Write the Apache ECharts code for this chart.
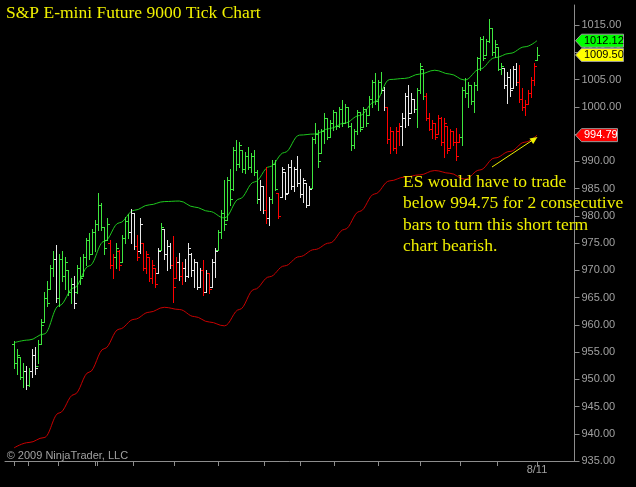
<!DOCTYPE html>
<html><head><meta charset="utf-8">
<script src="https://cdn.jsdelivr.net/npm/echarts@6/dist/echarts.min.js"></script>
<style>html,body{margin:0;padding:0;background:#000;}#c{width:636px;height:487px;}</style>
</head><body><div id="c"></div>
<script>
// ---- data ----
const highs = [957.0,955.5,954.0,953.0,952.5,952.0,955.5,956.0,957.2,961.0,
966.0,968.0,971.0,973.5,974.6,973.0,973.5,972.5,970.0,968.5,
969.0,971.0,972.5,973.0,976.0,976.8,977.5,979.2,984.1,982.3,
978.0,979.5,975.5,973.0,975.0,973.7,976.5,979.8,980.4,981.3,
980.5,976.5,979.6,975.0,973.5,972.5,971.9,970.5,974.0,978.6,
977.5,975.5,975.0,976.2,972.5,973.1,971.5,972.0,975.0,973.1,
972.0,971.5,970.5,971.9,970.0,969.5,972.0,974.0,977.4,981.1,
986.6,987.2,988.5,992.6,993.9,993.5,992.0,991.7,992.6,991.5,
992.0,988.4,986.6,985.5,989.0,983.4,990.2,990.2,984.1,989.0,
988.0,989.5,990.2,989.0,991.0,988.5,987.0,986.0,985.5,994.4,
997.0,995.7,996.0,998.8,998.0,997.5,999.4,999.0,1000.0,1001.2,
1000.5,1000.0,997.0,996.0,999.4,999.0,1000.0,999.5,1002.0,1004.9,
1006.2,1005.0,1006.4,1003.6,1000.0,996.3,995.5,996.3,997.0,998.8,
1002.5,1004.0,1002.5,1001.5,1003.4,1008.0,1007.0,1002.5,998.8,997.6,
997.0,998.5,998.1,997.9,996.5,996.0,995.5,996.1,995.0,1003.6,
1005.3,1004.5,1004.0,1004.5,1009.2,1012.8,1013.0,1012.5,1016.1,1014.5,
1012.2,1011.0,1008.0,1007.1,1006.4,1007.0,1007.5,1008.0,1007.7,1003.4,
1001.2,1003.0,1005.5,1008.0,1011.0];
const lows = [952.0,951.0,950.0,948.5,948.3,948.8,950.5,951.0,953.0,956.5,
960.5,963.5,966.5,969.0,964.2,963.5,968.0,966.5,965.5,964.0,
963.0,965.8,967.5,969.0,971.0,972.0,973.0,973.5,977.4,977.4,
972.9,975.5,970.5,968.5,970.5,970.1,971.5,975.0,976.0,975.0,
973.9,971.9,973.1,970.0,969.5,968.0,967.6,967.0,969.5,973.7,
972.0,970.0,970.5,964.2,968.5,968.2,967.5,968.0,968.8,969.0,
967.0,966.5,967.0,965.5,966.0,965.8,967.0,968.8,973.7,975.9,
977.4,979.2,982.0,984.7,988.4,989.0,988.0,987.8,988.5,988.0,
987.5,982.3,981.1,980.5,978.7,978.3,982.3,984.7,979.6,983.4,
983.0,984.1,985.0,984.5,985.5,983.5,982.5,981.6,982.0,985.1,
993.3,989.0,991.5,993.3,994.0,994.5,995.7,996.0,996.3,996.5,
997.0,996.3,992.1,992.5,995.0,995.5,996.3,996.5,998.5,1000.0,
1000.5,999.4,1002.5,999.4,993.3,991.5,992.0,991.5,993.0,993.0,
996.3,996.7,998.8,999.0,996.3,1002.5,1001.5,997.6,995.7,994.3,
994.0,995.0,993.0,990.8,991.5,992.5,993.0,990.2,993.5,993.0,
1001.8,1000.0,1000.5,999.0,1003.1,1006.7,1008.5,1009.5,1011.9,1009.5,
1009.1,1006.7,1006.0,1003.4,1000.7,1002.0,1003.5,1004.0,1000.9,999.4,
998.5,1000.5,1001.8,1004.0,1008.6];
const opens = [956.5,953.0,954.0,950.5,951.5,949.0,951.5,954.5,952.5,956.5,
960.5,965.0,966.5,970.5,972.0,965.0,972.0,969.0,970.0,966.0,
967.5,966.0,970.5,969.0,972.5,975.5,973.0,977.0,978.5,982.0,
978.0,975.5,975.0,971.0,972.5,973.5,971.5,976.0,979.0,977.0,
980.5,974.5,973.5,975.0,970.5,972.5,968.5,970.5,969.5,973.7,
977.5,973.0,974.5,971.0,968.5,971.5,969.0,970.5,969.0,973.0,
970.0,971.5,967.0,970.0,966.0,969.5,967.0,971.5,973.7,977.0,
980.5,979.2,986.5,985.0,992.0,989.5,992.0,988.5,991.0,989.0,
991.0,988.0,983.0,985.5,981.0,979.5,983.0,989.5,984.1,983.4,
988.0,984.1,989.0,985.5,988.5,986.0,984.0,986.0,982.0,985.1,
994.0,995.0,991.5,995.5,998.0,994.5,997.0,999.0,996.5,999.5,
997.0,1000.0,996.5,993.0,995.5,999.0,996.3,999.5,998.5,1001.5,
1004.5,1001.0,1004.5,1003.0,1000.0,994.0,995.5,992.5,995.5,996.5,
998.0,1002.0,998.8,1001.5,999.5,1003.0,1007.0,1002.0,998.0,996.0,
997.0,995.0,998.0,993.5,996.5,992.5,995.5,993.5,993.5,994.5,
1003.0,1002.5,1004.0,1001.0,1004.0,1009.0,1012.5,1009.5,1012.0,1014.5,
1010.0,1011.0,1007.0,1007.1,1004.0,1005.5,1003.5,1007.0,1004.5,1001.5,
1000.0,1000.5,1002.5,1005.0,1008.6];
const closes = [953.0,954.5,950.5,951.5,949.0,951.5,954.5,952.0,956.5,960.0,
965.0,964.0,970.5,972.0,965.0,972.0,969.0,971.5,966.0,967.5,
964.0,970.5,968.5,972.5,975.5,973.0,977.0,978.5,982.0,978.0,
974.0,978.5,971.0,972.5,974.0,971.0,976.0,979.0,977.0,980.5,
974.5,972.5,978.5,970.5,973.0,968.5,971.0,967.5,973.5,978.0,
973.0,974.5,971.0,967.0,971.5,969.0,970.5,969.0,974.0,970.0,
971.5,967.0,970.0,966.0,969.5,966.5,971.5,973.5,977.0,980.5,
978.5,986.5,983.0,992.0,989.5,993.0,988.5,991.0,989.0,991.0,
988.0,983.0,985.5,981.0,979.5,983.0,989.5,985.0,980.0,988.5,
984.0,989.0,985.5,988.5,986.0,984.0,986.5,982.0,985.0,994.0,
995.0,990.0,995.5,998.0,994.5,997.0,999.0,996.5,999.5,997.0,
1000.0,996.5,993.0,995.5,999.0,996.0,999.5,997.0,1001.5,1004.5,
1001.0,1004.5,1003.0,1000.0,994.0,995.5,992.5,995.5,996.5,998.0,
1002.0,998.0,1001.5,999.5,1003.0,1007.5,1002.0,998.0,996.0,997.0,
994.5,998.0,993.5,997.0,992.0,995.5,993.5,991.0,994.5,1003.0,
1002.5,1004.0,1001.0,1004.0,1009.0,1012.5,1009.0,1012.0,1014.5,1010.0,
1011.5,1007.0,1007.5,1004.0,1005.5,1003.0,1007.0,1004.5,1001.5,1000.0,
1000.5,1002.5,1005.0,1007.5,1009.5];
// bar state: g = green, w = white, r = red
const barStates = "gggg"+"w"+"g"+"ww"+"gggggg"+"w"+"ggggg"+"w"+"ggggggggggg"+"rr"+"g"+"r"+"ggg"+"ww"+"r"+"w"+"rrrrr"+"w"+"g"+"www"+"rr"+"w"+"r"+"wwwwww"+"r"+"w"+"r"+"ww"+"gggggggggggggg"+"ww"+"r"+"w"+"gg"+"r"+"wwwwwwwwww"+"gggggggggggggggggggggggg"+"w"+"rrrrr"+"wwwww"+"ggg"+"rrrrrrrrrrrr"+"gggggggggggggg"+"wwwww"+"rrrrrr"+"g";

const maIdx   = [0,5,10,15,20,25,30,35,40,45,50,55,60,65,70,75,80,85,90,95,100,105,110,115,120,125,130,135,140,145,150,155,160,165,170,174];
const greenMA = [956.7,957.2,958.3,963.5,966.8,970.8,975.3,978.7,981.0,982.0,982.6,982.7,981.6,980.8,979.6,983.1,986.2,989.0,991.6,994.8,995.0,996.0,997.0,998.4,1000.9,1005.0,1005.2,1006.0,1006.7,1006.0,1004.9,1006.9,1009.0,1009.8,1011.0,1012.12];
const redMA   = [937.4,938.4,939.3,943.8,947.2,951.3,955.6,959.2,961.0,962.3,963.2,962.8,961.5,960.5,959.8,962.8,966.5,968.8,970.8,972.5,973.8,975.0,977.5,980.8,984.0,986.4,987.1,987.5,988.3,987.8,986.7,988.4,990.6,991.8,993.5,994.79];

const yTicks = [935,940,945,950,955,960,965,970,975,980,985,990,995,1000,1005,1010,1015];
const xTickIdx = [0,4.66,14.64,26.95,27.61,39.59,53.23,67.87,83.18,95.2,106.5,121.1,135.1,148.4,160.7,174];
const dateLabelIdx = [174];
const dateLabelText = '8/11';
const lastClose = 1009.50, greenLast = 1012.12, redLast = 994.79;

const stateColor = {g:'#3ee63e', w:'#e8e8e8', r:'#ff0000'};
const stateCode = {g:0, w:1, r:2};
const codeColor = [stateColor.g, stateColor.w, stateColor.r];

const bars = highs.map((h,i)=>[i, opens[i], h, lows[i], closes[i], stateCode[barStates[i]] ?? 0]);

const chart = echarts.init(document.getElementById('c'), null, {renderer:'canvas'});
const GL = 5, GT = 5, GW = 569.5, GH = 456;
const option = {
  backgroundColor:'#000',
  animation:false,
  grid:{left:GL, top:GT, width:GW, height:GH},
  xAxis:{type:'value', min:-2.994, max:186.48,
    axisLine:{show:true, onZero:false, lineStyle:{color:'#8c8c8c', width:1}},
    axisTick:{show:true, customValues:xTickIdx, length:5, lineStyle:{color:'#8c8c8c'}},
    axisLabel:{show:true, customValues:dateLabelIdx, formatter:()=>dateLabelText, color:'#a0a0a0', fontSize:11, fontFamily:'Liberation Sans', margin:3},
    splitLine:{show:false}},
  yAxis:{type:'value', position:'right', min:935, max:1018.67,
    axisLine:{show:true, onZero:false, lineStyle:{color:'#8c8c8c', width:1}},
    axisTick:{show:true, customValues:yTicks, length:5, lineStyle:{color:'#8c8c8c'}},
    axisLabel:{show:true, customValues:yTicks, formatter:v=>Number(v).toFixed(2), color:'#a0a0a0', fontSize:11, fontFamily:'Liberation Sans', margin:7},
    splitLine:{show:false}},
  series:[
    {type:'line', data:maIdx.map((x,k)=>[x, redMA[k]]), smooth:0.4, smoothMonotone:'x', showSymbol:false,
      lineStyle:{color:'#c80000', width:1}, z:2},
    {type:'line', data:maIdx.map((x,k)=>[x, greenMA[k]]), smooth:0.4, smoothMonotone:'x', showSymbol:false,
      lineStyle:{color:'#1ec81e', width:1}, z:2},
    {type:'custom', data:bars, encode:{x:0, y:[1,2,3,4]}, z:3,
      renderItem:function(params, api){
        const i = api.value(0);
        const ph = api.coord([i, api.value(2)]);
        const pl = api.coord([i, api.value(3)]);
        const po = api.coord([i, api.value(1)]);
        const pc = api.coord([i, api.value(4)]);
        const col = codeColor[api.value(5)];
        const x = Math.round(ph[0]) + 0.5;
        const yo = Math.round(po[1]) + 0.5, yc = Math.round(pc[1]) + 0.5;
        const st = {stroke:col, lineWidth:1};
        return {type:'group', children:[
          {type:'line', shape:{x1:x, y1:Math.round(ph[1]), x2:x, y2:Math.round(pl[1])+1}, style:st},
          {type:'line', shape:{x1:x-2.5, y1:yo, x2:x, y2:yo}, style:st},
          {type:'line', shape:{x1:x, y1:yc, x2:x+2.5, y2:yc}, style:st}
        ]};
      }}
  ],
  graphic:[
    {type:'text', id:'title', x:6, y:13.5, z:100, style:{text:'S&P E-mini Future 9000 Tick Chart', fill:'#f0f000', font:'17.5px "Liberation Serif"', verticalAlign:'middle', align:'left'}},
    {type:'text', id:'note', x:403, y:171.6, z:100, style:{text:'ES would have to trade\nbelow 994.75 for 2 consecutive\nbars to turn this short term\nchart bearish.', fill:'#f0f000', font:'17.5px "Liberation Serif"', lineHeight:21.5, verticalAlign:'top', align:'left'}},
    {type:'line', id:'arrow', z:100, shape:{x1:492, y1:167, x2:535, y2:138.5}, style:{stroke:'#f0f000', lineWidth:1}},
    {type:'polygon', id:'arrowhead', z:100, shape:{points:[[537.5,137],[529.5,138.6],[533.2,143.9]]}, style:{fill:'#f0f000'}},
    {type:'text', id:'copy', x:6.7, y:455.5, z:100, style:{text:'\u00a9 2009 NinjaTrader, LLC', fill:'#a0a0a0', font:'11px "Liberation Sans"', verticalAlign:'middle', align:'left'}}
  ]
};
chart.setOption(option);

// price tags on the right axis, positioned through the axis scale
const ax = GL + GW;
function tag(id, val, fill, txtColor, right){
  const y = chart.convertToPixel({yAxisIndex:0}, val);
  return [
    {type:'polygon', id:id+'b', z:110, shape:{points:[[ax+1,y],[ax+7,y-6.5],[right,y-6.5],[right,y+6.5],[ax+7,y+6.5]]},
      style:{fill:fill, stroke:'#9a9a9a', lineWidth:1}},
    {type:'text', id:id+'t', z:111, x:ax+9.5, y:y, style:{text:val.toFixed(2), fill:txtColor, font:'11px "Liberation Sans"', verticalAlign:'middle', align:'left'}}
  ];
}
chart.setOption({graphic:[].concat(
  tag('g', greenLast, '#00ff00', '#000', 623.5),
  tag('y', lastClose, '#ffff00', '#000', 623.5),
  tag('r', redLast, '#ff0000', '#fff', 617.5)
)});
</script></body></html>
